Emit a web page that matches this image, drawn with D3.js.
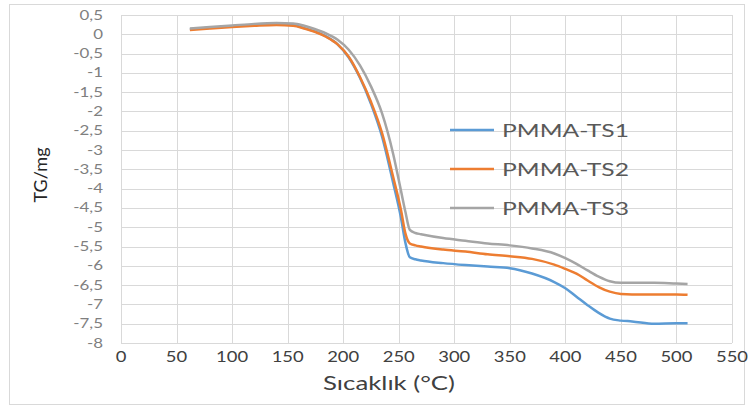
<!DOCTYPE html>
<html>
<head>
<meta charset="utf-8">
<script src="https://cdn.jsdelivr.net/npm/d3@7"></script>
<style>
  body { margin: 0; background: #fff; }
  text { font-family: Lato, "Open Sans", sans-serif; }
</style>
</head>
<body>
<div id="chart"></div>
<script>
// temperatures (°C) shared by the three TG curves
var temps = [62, 80, 100, 120, 140, 155, 165, 175, 185, 195, 205, 215, 225, 235, 245, 252, 256, 260, 265, 270,
	290, 310, 330, 350, 370, 390, 400, 410, 420, 430, 440, 450, 460, 480, 500, 510];

var ts1 = [0.13, 0.17, 0.21, 0.24, 0.26, 0.24, 0.16, 0.07, -0.06, -0.26, -0.6, -1.12, -1.8, -2.65, -3.85, -4.75, -5.4, -5.78, -5.83, -5.86,
	-5.93, -5.98, -6.02, -6.06, -6.2, -6.42, -6.58, -6.8, -7.02, -7.22, -7.37, -7.42, -7.44, -7.5, -7.49, -7.49];
var ts2 = [0.11, 0.15, 0.19, 0.22, 0.24, 0.22, 0.15, 0.06, -0.07, -0.26, -0.58, -1.1, -1.75, -2.56, -3.7, -4.55, -5.16, -5.42, -5.47, -5.5,
	-5.58, -5.63, -5.7, -5.75, -5.82, -5.97, -6.08, -6.2, -6.38, -6.55, -6.67, -6.73, -6.74, -6.74, -6.74, -6.75];
var ts3 = [0.15, 0.19, 0.23, 0.27, 0.29, 0.28, 0.22, 0.13, 0.02, -0.14, -0.4, -0.8, -1.35, -2.05, -3.1, -4.05, -4.6, -5.07, -5.15, -5.18,
	-5.28, -5.35, -5.42, -5.47, -5.55, -5.68, -5.8, -5.95, -6.12, -6.28, -6.4, -6.44, -6.44, -6.44, -6.46, -6.47];

var seriesNames = ["PMMA-TS1", "PMMA-TS2", "PMMA-TS3"];
var seriesColors = ["#5B9BD5", "#ED7D31", "#A5A5A5"];

var xTicks = d3.range(0, 551, 50);
var yTicks = d3.range(-8, 0.51, 0.5);

var width = 750,
	height = 409;

var svg = d3.select("#chart")
	.append("svg")
	.attr("width", width)
	.attr("height", height);

// chart frame
svg.append("rect")
	.attr("x", 9.5).attr("y", 4.5)
	.attr("width", 735).attr("height", 400)
	.attr("fill", "#fff")
	.attr("stroke", "#d9d9d9");

var x = d3.scaleLinear().domain([0, 550]).range([121, 732]);
var y = d3.scaleLinear().domain([-8, 0.5]).range([343, 15]);

// grid
svg.append("g").selectAll("line")
	.data(yTicks).enter()
	.append("line")
	.attr("x1", x(0)).attr("x2", x(550))
	.attr("y1", function(d){ return Math.round(y(d)) + 0.5; })
	.attr("y2", function(d){ return Math.round(y(d)) + 0.5; })
	.attr("stroke", "#d9d9d9");

svg.append("g").selectAll("line")
	.data(xTicks).enter()
	.append("line")
	.attr("y1", y(-8)).attr("y2", y(0.5))
	.attr("x1", function(d){ return Math.round(x(d)) + 0.5; })
	.attr("x2", function(d){ return Math.round(x(d)) + 0.5; })
	.attr("stroke", "#d9d9d9");

// tick labels (the source image is a bit stretched sideways)
var fmt = function(d){ return String(d).replace(".", ","); };

svg.append("g").selectAll("text")
	.data(yTicks).enter()
	.append("text")
	.attr("transform", function(d){ return "translate(103," + (y(d) + 4.5) + ") scale(1.3,1)"; })
	.attr("text-anchor", "end")
	.attr("font-size", 13)
	.attr("fill", "#7f7f7f")
	.text(fmt);

svg.append("g").selectAll("text")
	.data(xTicks).enter()
	.append("text")
	.attr("transform", function(d){ return "translate(" + x(d) + ",362) scale(1.15,1)"; })
	.attr("text-anchor", "middle")
	.attr("font-size", 16)
	.attr("fill", "#404040")
	.text(fmt);

// axis titles
svg.append("text")
	.attr("x", 323).attr("y", 390)
	.attr("font-size", 20)
	.attr("textLength", 132)
	.attr("lengthAdjust", "spacingAndGlyphs")
	.attr("fill", "#404040")
	.text("Sıcaklık (°C)");

svg.append("text")
	.attr("transform", "translate(47,175) rotate(-90)")
	.attr("text-anchor", "middle")
	.attr("font-size", 18)
	.attr("fill", "#262626")
	.text("TG/mg");

// curves
var allSeries = [ts1, ts2, ts3];

var line = d3.line()
	.x(function(d, i){ return x(temps[i]); })
	.y(function(d){ return y(d); })
	.curve(d3.curveMonotoneX);

svg.append("g").selectAll("path")
	.data(allSeries).enter()
	.append("path")
	.attr("fill", "none")
	.attr("stroke", function(d, i){ return seriesColors[i]; })
	.attr("stroke-width", 2.5)
	.attr("d", line);

// legend
var legend = svg.append("g").selectAll("g")
	.data(seriesNames).enter()
	.append("g")
	.attr("transform", function(d, i){ return "translate(450," + (130 + i * 39) + ")"; });

legend.append("line")
	.attr("x1", 0).attr("x2", 44)
	.attr("stroke", function(d, i){ return seriesColors[i]; })
	.attr("stroke-width", 2.5);

legend.append("text")
	.attr("x", 52).attr("y", 7)
	.attr("font-size", 18)
	.attr("textLength", 127)
	.attr("lengthAdjust", "spacingAndGlyphs")
	.attr("fill", "#595959")
	.text(function(d){ return d; });
</script>
</body>
</html>
